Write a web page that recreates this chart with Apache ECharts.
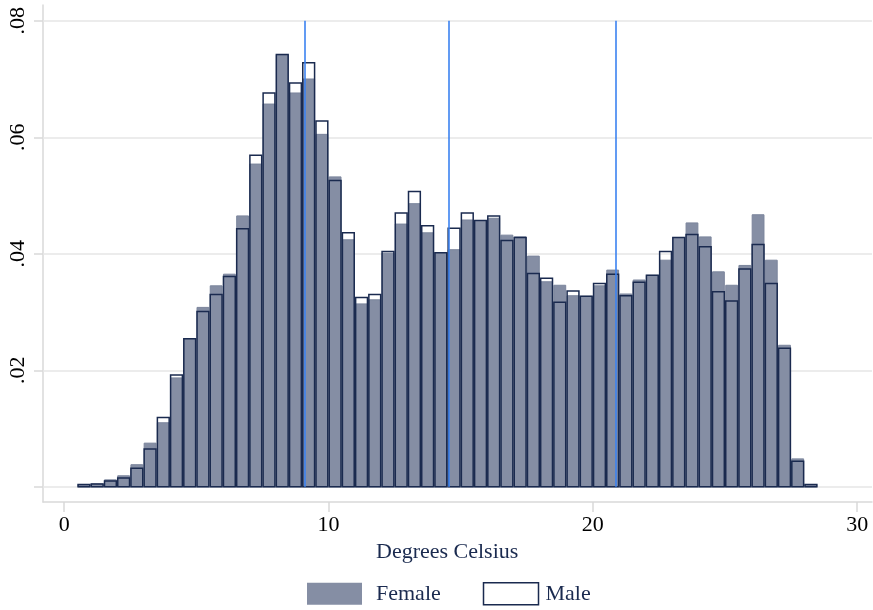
<!DOCTYPE html>
<html>
<head>
<meta charset="utf-8">
<script src="https://cdn.jsdelivr.net/npm/echarts@6/dist/echarts.min.js"></script>
<style>
  html, body { margin: 0; padding: 0; background: #fff; }
  #chart { width: 873px; height: 610px; }
</style>
</head>
<body>
<div id="chart"></div>
<script>
// histogram bins (left edge, width 0.5 degrees)
const binStart = [
  0.5, 1, 1.5, 2, 2.5, 3, 3.5, 4, 4.5, 5, 5.5, 6, 6.5, 7, 7.5, 8, 8.5, 9, 9.5, 10,
  10.5, 11, 11.5, 12, 12.5, 13, 13.5, 14, 14.5, 15, 15.5, 16, 16.5, 17, 17.5, 18,
  18.5, 19, 19.5, 20, 20.5, 21, 21.5, 22, 22.5, 23, 23.5, 24, 24.5, 25, 25.5, 26,
  26.5, 27, 27.5, 28
]
const binWidth = 0.5

const female = [
  0.0004, 0.0005, 0.0012, 0.0019, 0.0038, 0.0075, 0.0110, 0.0187, 0.0254, 0.0308,
  0.0345, 0.0365, 0.0465, 0.0554, 0.0657, 0.0741, 0.0676, 0.0700, 0.0605, 0.0532,
  0.0424, 0.0314, 0.0321, 0.0401, 0.0451, 0.0486, 0.0436, 0.0402, 0.0407, 0.0458,
  0.0456, 0.0461, 0.0432, 0.0429, 0.0396, 0.0352, 0.0346, 0.0328, 0.0327, 0.0345,
  0.0372, 0.0331, 0.0355, 0.0363, 0.0389, 0.0428, 0.0453, 0.0429, 0.0369, 0.0346,
  0.0380, 0.0467, 0.0389, 0.0243, 0.0048, 0.0004
]

const male = [
  0.0004, 0.0005, 0.0010, 0.0015, 0.0032, 0.0065, 0.0119, 0.0192, 0.0254, 0.0301,
  0.0330, 0.0361, 0.0443, 0.0569, 0.0676, 0.0742, 0.0693, 0.0728, 0.0628, 0.0526,
  0.0436, 0.0325, 0.0330, 0.0404, 0.0470, 0.0507, 0.0448, 0.0402, 0.0444, 0.0470,
  0.0457, 0.0465, 0.0423, 0.0428, 0.0366, 0.0358, 0.0317, 0.0336, 0.0327, 0.0349,
  0.0365, 0.0328, 0.0351, 0.0363, 0.0404, 0.0428, 0.0433, 0.0412, 0.0335, 0.0319,
  0.0374, 0.0416, 0.0349, 0.0238, 0.0044, 0.0004
]

const refLines = [9.1, 14.55, 20.88]
const xTicks = [0, 10, 20, 30]
const yTicks = [0, 0.02, 0.04, 0.06, 0.08]
const yLabels = [0.02, 0.04, 0.06, 0.08]

const FONT = 'Liberation Serif'
const NAVY = '#1a2a4f'

const toBins = (vals) => binStart.map((s, i) => [s, s + binWidth, vals[i]])

const makeRender = (style) => (params, api) => {
  const p0 = api.coord([api.value(0), api.value(2)])
  const p1 = api.coord([api.value(1), 0])
  return {
    type: 'rect',
    shape: {
      x: p0[0] + 0.7,
      y: p0[1],
      width: p1[0] - p0[0] - 1.4,
      height: p1[1] - p0[1]
    },
    style: style
  }
}

const chart = echarts.init(document.getElementById('chart'))
const option = {
  animation: false,
  grid: { left: 43, right: 1, top: 5, bottom: 108 },
  xAxis: {
    type: 'value',
    min: -0.8,
    max: 30.56,
    axisLine: { show: true, onZero: false, lineStyle: { color: '#d9d9d9', width: 1.5 } },
    axisTick: { show: true, customValues: xTicks, length: 10, lineStyle: { color: '#d9d9d9', width: 1.5 } },
    axisLabel: {
      customValues: xTicks,
      color: '#000',
      fontFamily: FONT,
      fontSize: 22,
      margin: 12
    },
    splitLine: { show: false }
  },
  yAxis: {
    type: 'value',
    min: -0.0026,
    max: 0.0827,
    axisLine: { show: true, onZero: false, lineStyle: { color: '#d9d9d9', width: 1.5 } },
    axisTick: { show: true, customValues: yTicks, length: 9, lineStyle: { color: '#d9d9d9', width: 1.5 } },
    axisLabel: {
      customValues: yLabels,
      rotate: 90,
      color: '#000',
      fontFamily: FONT,
      fontSize: 22,
      margin: 14,
      formatter: (v) => v.toFixed(2).replace(/^0/, '')
    },
    splitLine: { show: false }
  },
  legend: {
    left: 302,
    top: 577,
    itemWidth: 55,
    itemHeight: 22,
    itemGap: 42,
    textStyle: { color: NAVY, fontFamily: FONT, fontSize: 22 },
    data: [
      {
        name: 'Female',
        icon: 'rect',
        itemStyle: { color: '#858ea4', borderWidth: 0 },
        textStyle: { padding: [0, 0, 0, 9] }
      },
      {
        name: 'Male',
        icon: 'rect',
        itemStyle: { color: '#fff', borderColor: NAVY, borderWidth: 1.5 },
        textStyle: { padding: [0, 0, 0, 2] }
      }
    ]
  },
  graphic: [
    {
      type: 'text',
      left: 376,
      top: 541,
      style: { text: 'Degrees Celsius', fill: NAVY, font: '22px "Liberation Serif"' }
    }
  ],
  series: [
    {
      // gridlines
      type: 'line',
      data: [],
      silent: true,
      z: 1,
      markLine: {
        z: 1,
        silent: true,
        symbol: 'none',
        label: { show: false },
        lineStyle: { color: '#e6e6e6', width: 1.5, type: 'solid' },
        data: yTicks.map((v) => ({ yAxis: v }))
      }
    },
    {
      name: 'Female',
      type: 'custom',
      z: 3,
      renderItem: makeRender({ fill: '#858ea4', stroke: '#7b859c', lineWidth: 1 }),
      itemStyle: { color: '#858ea4' },
      data: toBins(female)
    },
    {
      name: 'Male',
      type: 'custom',
      z: 4,
      renderItem: makeRender({ fill: 'none', stroke: NAVY, lineWidth: 1.5 }),
      itemStyle: { color: '#fff', borderColor: NAVY },
      data: toBins(male)
    },
    {
      // vertical reference lines
      type: 'line',
      data: [],
      silent: true,
      z: 10,
      markLine: {
        z: 10,
        silent: true,
        symbol: 'none',
        label: { show: false },
        lineStyle: { color: '#3b82f0', width: 1.6, type: 'solid' },
        data: refLines.map((x) => [{ coord: [x, 0] }, { coord: [x, 0.08] }])
      }
    }
  ]
}
chart.setOption(option)
</script>
</body>
</html>
